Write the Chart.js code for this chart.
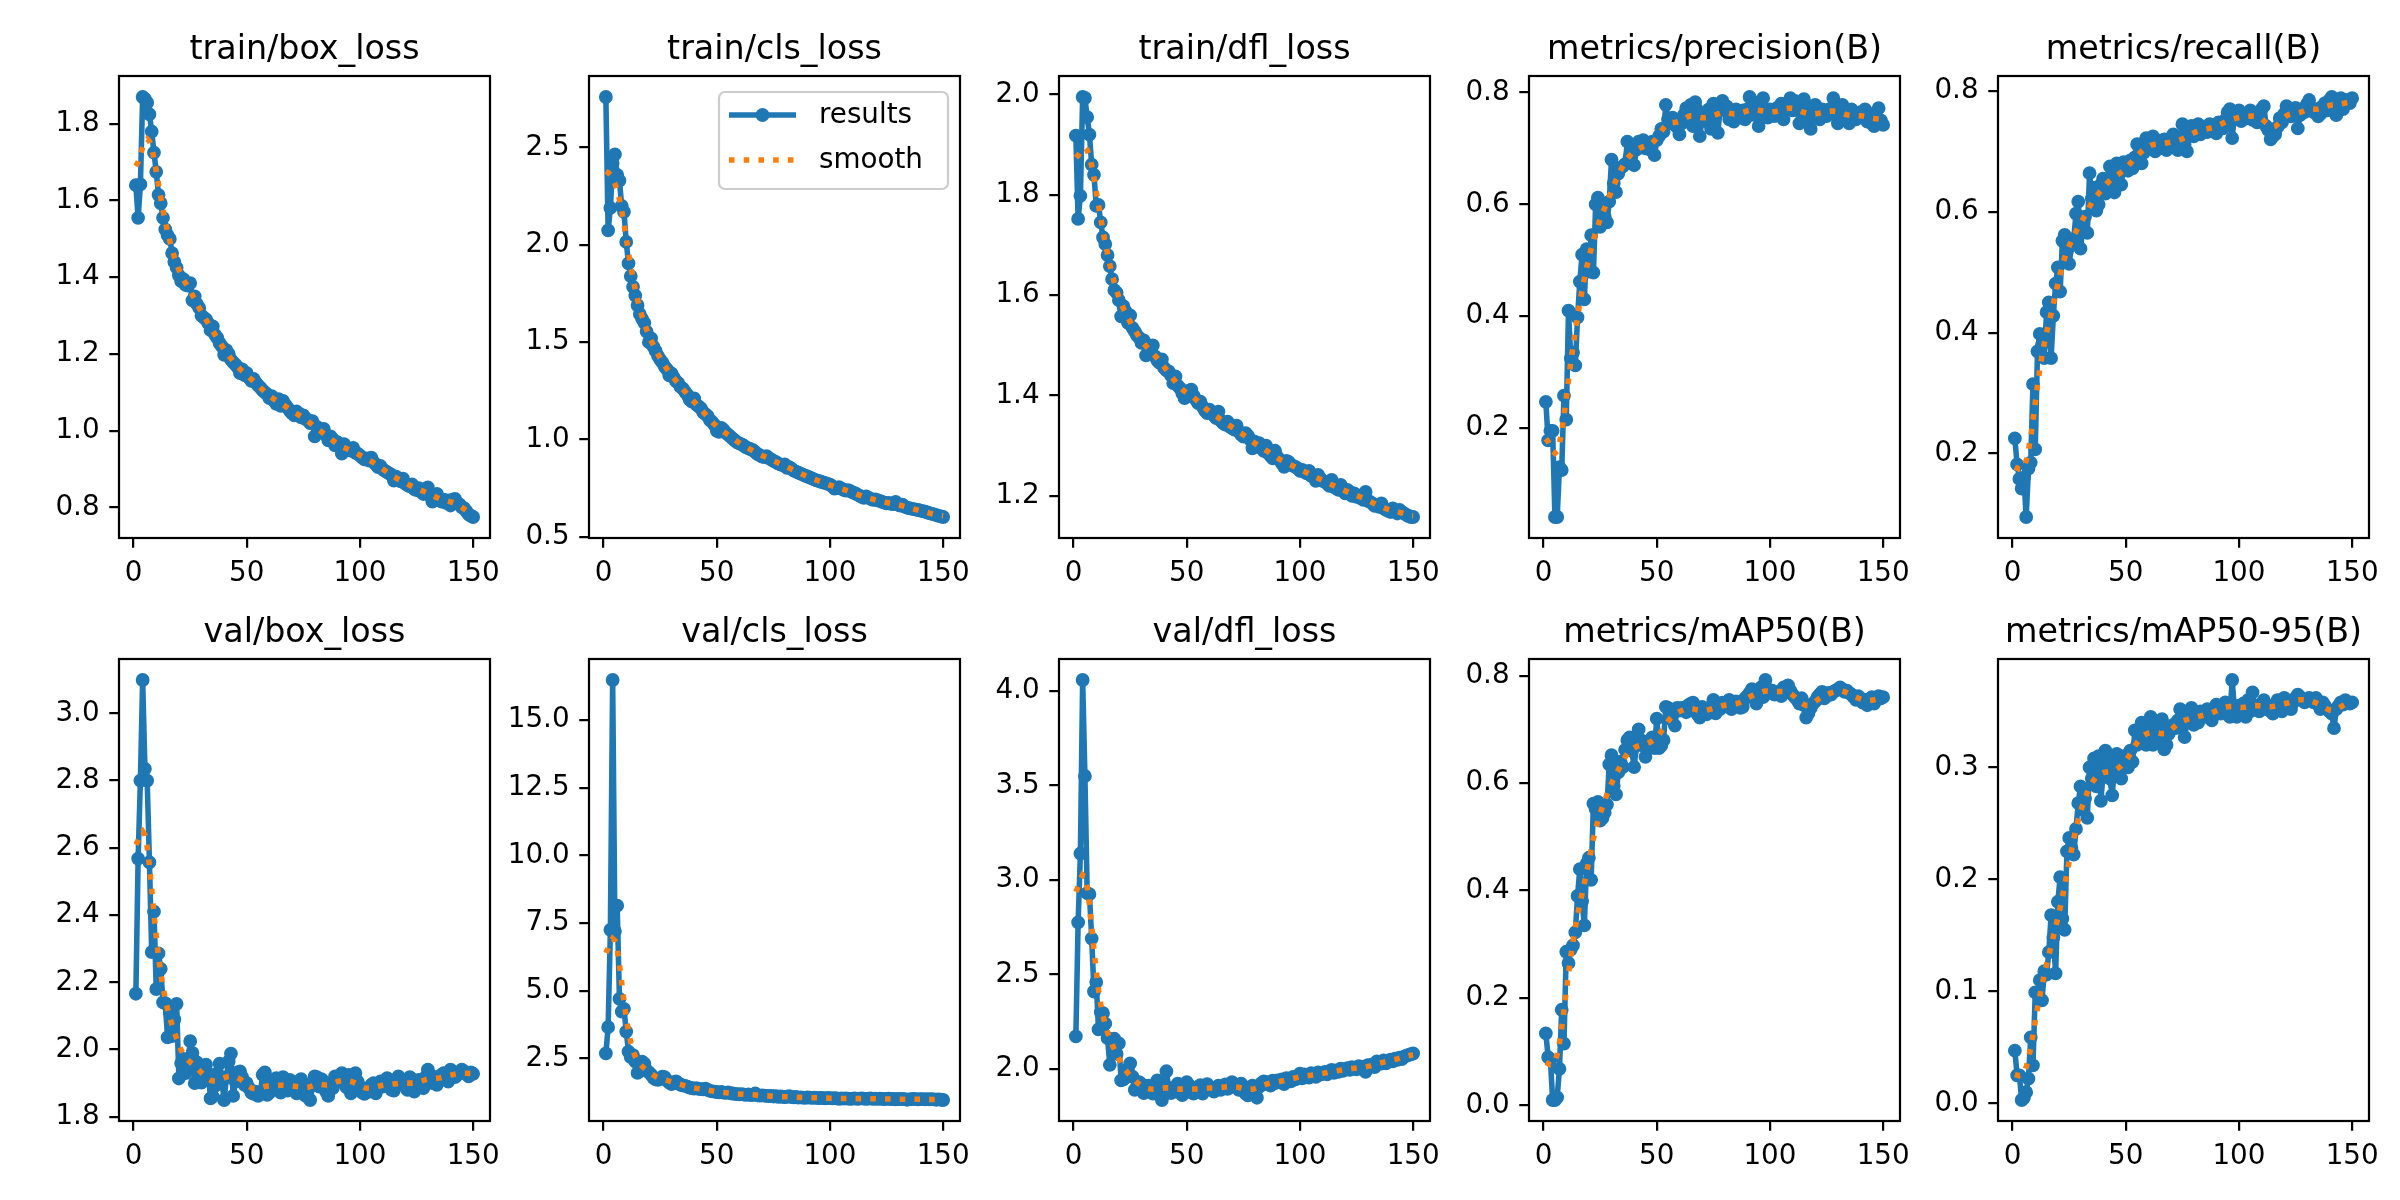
<!DOCTYPE html>
<html>
<head>
<meta charset="utf-8">
<script src="https://cdn.jsdelivr.net/npm/chart.js@4.4.1/dist/chart.umd.min.js"></script>
<style>
  html, body { margin: 0; padding: 0; background: #fff; }
  #fig { position: relative; width: 2400px; height: 1200px; background: #fff; overflow: hidden; }
  #fig canvas { position: absolute; }
</style>
</head>
<body>
<div id="fig"></div>
<script>
// values, one per epoch (1..150)
const trainBoxLoss = [
  1.640, 1.555, 1.642, 1.870, 1.865, 1.855, 1.825, 1.780, 1.725, 1.675,
  1.615, 1.593, 1.555, 1.525, 1.510, 1.500, 1.463, 1.440, 1.425, 1.405,
  1.390, 1.395, 1.380, 1.378, 1.385, 1.340, 1.350, 1.330, 1.320, 1.300,
  1.295, 1.290, 1.280, 1.262, 1.272, 1.250, 1.242, 1.228, 1.220, 1.198,
  1.210, 1.200, 1.185, 1.178, 1.172, 1.165, 1.150, 1.160, 1.145, 1.150,
  1.138, 1.130, 1.135, 1.125, 1.118, 1.112, 1.105, 1.100, 1.095, 1.085,
  1.090, 1.078, 1.070, 1.082, 1.065, 1.078, 1.068, 1.060, 1.052, 1.045,
  1.040, 1.050, 1.045, 1.035, 1.040, 1.030, 1.028, 1.020, 1.025, 0.985,
  1.010, 1.000, 0.995, 1.005, 0.990, 0.975, 0.985, 0.978, 0.962, 0.970,
  0.958, 0.940, 0.965, 0.955, 0.950, 0.948, 0.955, 0.942, 0.940, 0.935,
  0.930, 0.925, 0.928, 0.922, 0.930, 0.918, 0.912, 0.905, 0.908, 0.900,
  0.895, 0.892, 0.888, 0.885, 0.870, 0.880, 0.872, 0.868, 0.875, 0.862,
  0.858, 0.855, 0.860, 0.848, 0.845, 0.850, 0.842, 0.835, 0.848, 0.852,
  0.830, 0.815, 0.828, 0.835, 0.822, 0.815, 0.820, 0.812, 0.818, 0.805,
  0.820, 0.822, 0.812, 0.808, 0.800, 0.798, 0.790, 0.782, 0.778, 0.775
];
const trainClsLoss = [
  2.760, 2.075, 2.190, 2.420, 2.465, 2.360, 2.330, 2.200, 2.170, 2.015,
  1.905, 1.840, 1.785, 1.740, 1.690, 1.645, 1.620, 1.600, 1.555, 1.500,
  1.520, 1.478, 1.455, 1.430, 1.410, 1.395, 1.375, 1.360, 1.330, 1.340,
  1.318, 1.300, 1.290, 1.270, 1.262, 1.245, 1.230, 1.205, 1.195, 1.212,
  1.180, 1.170, 1.160, 1.140, 1.130, 1.120, 1.100, 1.090, 1.075, 1.045,
  1.040, 1.060, 1.050, 1.035, 1.025, 1.015, 1.005, 0.995, 0.985, 0.980,
  0.975, 0.968, 0.960, 0.955, 0.950, 0.945, 0.935, 0.925, 0.920, 0.912,
  0.910, 0.915, 0.905, 0.898, 0.890, 0.885, 0.878, 0.872, 0.868, 0.872,
  0.855, 0.858, 0.850, 0.840, 0.835, 0.830, 0.825, 0.820, 0.815, 0.810,
  0.805, 0.800, 0.795, 0.790, 0.787, 0.783, 0.780, 0.776, 0.772, 0.768,
  0.760, 0.748, 0.752, 0.755, 0.748, 0.742, 0.738, 0.740, 0.735, 0.728,
  0.725, 0.718, 0.712, 0.705, 0.700, 0.708, 0.702, 0.695, 0.690, 0.692,
  0.688, 0.685, 0.680, 0.676, 0.672, 0.675, 0.670, 0.668, 0.680, 0.665,
  0.660, 0.665, 0.655, 0.650, 0.648, 0.645, 0.642, 0.640, 0.638, 0.635,
  0.632, 0.630, 0.625, 0.622, 0.618, 0.615, 0.612, 0.608, 0.605, 0.602
];
const trainDflLoss = [
  1.918, 1.752, 1.798, 1.995, 1.993, 1.955, 1.920, 1.860, 1.840, 1.778,
  1.780, 1.745, 1.715, 1.702, 1.680, 1.658, 1.632, 1.610, 1.605, 1.590,
  1.558, 1.578, 1.568, 1.545, 1.560, 1.535, 1.528, 1.520, 1.515, 1.505,
  1.510, 1.480, 1.495, 1.488, 1.500, 1.478, 1.470, 1.465, 1.472, 1.455,
  1.450, 1.448, 1.440, 1.425, 1.438, 1.420, 1.415, 1.405, 1.395, 1.398,
  1.410, 1.412, 1.400, 1.392, 1.385, 1.388, 1.378, 1.370, 1.365, 1.372,
  1.365, 1.360, 1.355, 1.368, 1.350, 1.345, 1.342, 1.348, 1.338, 1.335,
  1.332, 1.340, 1.328, 1.322, 1.318, 1.325, 1.320, 1.312, 1.295, 1.308,
  1.300, 1.305, 1.295, 1.290, 1.300, 1.285, 1.280, 1.275, 1.290, 1.278,
  1.272, 1.265, 1.258, 1.270, 1.268, 1.262, 1.260, 1.258, 1.255, 1.250,
  1.252, 1.248, 1.245, 1.250, 1.240, 1.238, 1.230, 1.242, 1.235, 1.230,
  1.228, 1.225, 1.220, 1.232, 1.218, 1.215, 1.212, 1.222, 1.210, 1.205,
  1.212, 1.208, 1.200, 1.205, 1.198, 1.200, 1.195, 1.192, 1.208, 1.190,
  1.188, 1.185, 1.180, 1.182, 1.178, 1.185, 1.175, 1.172, 1.170, 1.168,
  1.175, 1.170, 1.165, 1.172, 1.168, 1.165, 1.162, 1.160, 1.158, 1.158
];
const precisionB = [
  0.247, 0.178, 0.195, 0.195, 0.041, 0.041, 0.130, 0.125, 0.258, 0.215,
  0.410, 0.325, 0.335, 0.312, 0.398, 0.462, 0.510, 0.430, 0.520, 0.480,
  0.545, 0.478, 0.600, 0.612, 0.560, 0.590, 0.578, 0.568, 0.605, 0.680,
  0.638, 0.622, 0.655, 0.665, 0.668, 0.672, 0.712, 0.685, 0.705, 0.670,
  0.698, 0.712, 0.702, 0.715, 0.700, 0.708, 0.698, 0.712, 0.688, 0.715,
  0.722, 0.735, 0.730, 0.778, 0.752, 0.748, 0.755, 0.742, 0.738, 0.725,
  0.745, 0.760, 0.772, 0.752, 0.778, 0.740, 0.783, 0.768, 0.722, 0.752,
  0.760, 0.748, 0.770, 0.735, 0.780, 0.765, 0.728, 0.772, 0.785, 0.768,
  0.775, 0.752, 0.760, 0.748, 0.770, 0.762, 0.755, 0.768, 0.752, 0.770,
  0.792, 0.760, 0.775, 0.782, 0.740, 0.768, 0.790, 0.762, 0.755, 0.770,
  0.760, 0.758, 0.772, 0.765, 0.780, 0.752, 0.775, 0.770, 0.790, 0.768,
  0.785, 0.772, 0.745, 0.762, 0.788, 0.752, 0.770, 0.735, 0.765, 0.778,
  0.760, 0.752, 0.770, 0.765, 0.758, 0.770, 0.768, 0.790, 0.762, 0.745,
  0.772, 0.778, 0.760, 0.750, 0.745, 0.770, 0.762, 0.752, 0.758, 0.765,
  0.755, 0.770, 0.748, 0.762, 0.745, 0.740, 0.758, 0.772, 0.750, 0.742
];
const recallB = [
  0.225, 0.182, 0.158, 0.142, 0.160, 0.095, 0.175, 0.185, 0.315, 0.207,
  0.369, 0.398, 0.380, 0.358, 0.434, 0.450, 0.358, 0.428, 0.481, 0.508,
  0.468, 0.552, 0.562, 0.535, 0.514, 0.545, 0.555, 0.597, 0.617, 0.539,
  0.578, 0.592, 0.565, 0.664, 0.622, 0.640, 0.602, 0.612, 0.645, 0.655,
  0.630, 0.648, 0.675, 0.660, 0.632, 0.680, 0.662, 0.645, 0.682, 0.670,
  0.668, 0.685, 0.672, 0.690, 0.712, 0.705, 0.680, 0.698, 0.722, 0.708,
  0.715, 0.725, 0.700, 0.718, 0.705, 0.712, 0.720, 0.702, 0.715, 0.722,
  0.728, 0.710, 0.702, 0.718, 0.745, 0.712, 0.700, 0.738, 0.742, 0.725,
  0.730, 0.745, 0.728, 0.740, 0.735, 0.732, 0.745, 0.738, 0.742, 0.730,
  0.748, 0.742, 0.738, 0.752, 0.765, 0.770, 0.722, 0.760, 0.755, 0.768,
  0.750, 0.758, 0.762, 0.755, 0.768, 0.752, 0.760, 0.748, 0.762, 0.770,
  0.775, 0.742, 0.735, 0.720, 0.725, 0.728, 0.740, 0.755, 0.748, 0.762,
  0.775, 0.770, 0.758, 0.765, 0.772, 0.738, 0.760, 0.770, 0.765, 0.778,
  0.785, 0.772, 0.765, 0.770, 0.758, 0.762, 0.775, 0.780, 0.768, 0.785,
  0.790, 0.775, 0.760, 0.782, 0.788, 0.770, 0.778, 0.785, 0.780, 0.788
];
const valBoxLoss = [
  2.166, 2.568, 2.800, 3.099, 2.835, 2.800, 2.557, 2.290, 2.410, 2.180,
  2.286, 2.240, 2.140, 2.138, 2.036, 2.110, 2.040, 2.090, 2.136, 1.914,
  1.960, 1.972, 1.930, 1.958, 2.025, 1.990, 1.900, 1.962, 1.930, 1.902,
  1.940, 1.955, 1.928, 1.855, 1.860, 1.892, 1.930, 1.958, 1.905, 1.850,
  1.918, 1.965, 1.988, 1.862, 1.905, 1.932, 1.935, 1.918, 1.895, 1.900,
  1.885, 1.872, 1.868, 1.875, 1.862, 1.870, 1.925, 1.932, 1.865, 1.872,
  1.905, 1.880, 1.915, 1.888, 1.872, 1.918, 1.900, 1.878, 1.910, 1.890,
  1.880, 1.870, 1.905, 1.912, 1.895, 1.862, 1.878, 1.850, 1.902, 1.920,
  1.918, 1.890, 1.912, 1.905, 1.875, 1.862, 1.898, 1.885, 1.920, 1.915,
  1.905, 1.930, 1.912, 1.888, 1.925, 1.870, 1.922, 1.930, 1.905, 1.890,
  1.872, 1.868, 1.880, 1.875, 1.895, 1.900, 1.870, 1.885, 1.905, 1.890,
  1.895, 1.915, 1.902, 1.880, 1.878, 1.900, 1.920, 1.910, 1.895, 1.902,
  1.880, 1.918, 1.912, 1.875, 1.898, 1.910, 1.905, 1.885, 1.918, 1.940,
  1.925, 1.900, 1.918, 1.895, 1.910, 1.925, 1.930, 1.912, 1.905, 1.940,
  1.935, 1.918, 1.925, 1.930, 1.940, 1.935, 1.928, 1.920, 1.932, 1.928
];
const valClsLoss = [
  2.68, 3.65, 7.25, 16.48, 7.20, 8.14, 4.70, 4.23, 4.33, 3.49,
  2.75, 2.54, 2.62, 2.38, 1.96, 2.12, 2.38, 2.30, 2.05, 1.98,
  1.90, 1.78, 1.72, 1.70, 1.75, 1.82, 1.80, 1.68, 1.60, 1.55,
  1.62, 1.65, 1.58, 1.52, 1.50, 1.48, 1.45, 1.42, 1.40, 1.38,
  1.40, 1.37, 1.36, 1.35, 1.38, 1.33, 1.30, 1.28, 1.27, 1.25,
  1.24, 1.26, 1.23, 1.22, 1.24, 1.21, 1.20, 1.19, 1.18, 1.17,
  1.18, 1.16, 1.15, 1.17, 1.14, 1.15, 1.20, 1.13, 1.12, 1.13,
  1.12, 1.11, 1.10, 1.11, 1.09, 1.10, 1.08, 1.09, 1.08, 1.07,
  1.08, 1.10, 1.07, 1.06, 1.07, 1.05, 1.06, 1.05, 1.04, 1.06,
  1.05, 1.04, 1.05, 1.04, 1.03, 1.04, 1.03, 1.02, 1.04, 1.03,
  1.02, 1.03, 1.02, 1.00, 1.02, 1.01, 1.02, 1.01, 1.00, 1.01,
  1.02, 1.00, 1.01, 1.02, 1.01, 1.00, 1.01, 1.02, 1.00, 1.01,
  1.00, 1.01, 1.00, 0.99, 1.00, 1.01, 0.99, 1.00, 0.98, 1.00,
  0.99, 1.00, 0.99, 0.97, 0.98, 0.99, 1.00, 0.99, 0.98, 0.99,
  0.99, 0.98, 0.99, 0.98, 0.99, 0.98, 0.97, 0.98, 0.97, 0.96
];
const valDflLoss = [
  2.173, 2.776, 3.140, 4.058, 3.550, 2.930, 2.925, 2.690, 2.410, 2.460,
  2.210, 2.300, 2.295, 2.240, 2.164, 2.022, 2.150, 2.160, 2.080, 2.135,
  1.940, 1.945, 1.955, 2.000, 2.030, 1.960, 1.890, 1.905, 1.930, 1.920,
  1.872, 1.888, 1.912, 1.882, 1.870, 1.898, 1.940, 1.862, 1.836, 1.910,
  1.988, 1.900, 1.872, 1.895, 1.880, 1.922, 1.880, 1.862, 1.892, 1.930,
  1.915, 1.878, 1.870, 1.885, 1.905, 1.915, 1.870, 1.900, 1.920, 1.905,
  1.895, 1.880, 1.900, 1.912, 1.890, 1.905, 1.918, 1.895, 1.902, 1.930,
  1.915, 1.905, 1.890, 1.922, 1.908, 1.870, 1.860, 1.895, 1.912, 1.898,
  1.848, 1.905, 1.925, 1.935, 1.920, 1.930, 1.912, 1.938, 1.925, 1.940,
  1.930, 1.945, 1.920, 1.952, 1.940, 1.935, 1.958, 1.945, 1.962, 1.975,
  1.950, 1.972, 1.960, 1.955, 1.978, 1.965, 1.958, 1.982, 1.970, 1.975,
  1.985, 1.972, 1.988, 1.995, 1.980, 1.992, 1.985, 2.002, 1.990, 1.998,
  2.005, 1.995, 2.010, 2.002, 1.998, 2.015, 2.008, 2.012, 1.985, 2.020,
  2.018, 2.025, 2.010, 2.040, 2.035, 2.028, 2.045, 2.030, 2.042, 2.050,
  2.040, 2.055, 2.048, 2.060, 2.052, 2.065, 2.070, 2.075, 2.078, 2.082
];
const mAP50B = [
  0.134, 0.090, 0.085, 0.010, 0.010, 0.015, 0.068, 0.178, 0.115, 0.286,
  0.265, 0.290, 0.298, 0.322, 0.390, 0.440, 0.380, 0.335, 0.450, 0.461,
  0.420, 0.562, 0.552, 0.565, 0.530, 0.535, 0.545, 0.560, 0.635, 0.652,
  0.595, 0.579, 0.620, 0.640, 0.630, 0.662, 0.680, 0.685, 0.660, 0.630,
  0.670, 0.700, 0.680, 0.670, 0.649, 0.665, 0.680, 0.685, 0.665, 0.720,
  0.665, 0.670, 0.680, 0.742, 0.740, 0.720, 0.735, 0.707, 0.740, 0.735,
  0.740, 0.738, 0.732, 0.745, 0.748, 0.750, 0.735, 0.728, 0.722, 0.742,
  0.735, 0.728, 0.740, 0.732, 0.755, 0.730, 0.742, 0.738, 0.750, 0.745,
  0.748, 0.755, 0.738, 0.745, 0.752, 0.748, 0.740, 0.742, 0.758, 0.762,
  0.768, 0.775, 0.760, 0.748, 0.772, 0.778, 0.760, 0.792, 0.775, 0.768,
  0.772, 0.765, 0.768, 0.770, 0.762, 0.778, 0.775, 0.782, 0.772, 0.765,
  0.760, 0.755, 0.748, 0.758, 0.745, 0.722, 0.730, 0.740, 0.748, 0.752,
  0.760, 0.765, 0.770, 0.758, 0.762, 0.768, 0.765, 0.770, 0.772, 0.775,
  0.778, 0.775, 0.770, 0.772, 0.768, 0.765, 0.760, 0.755, 0.762, 0.758,
  0.750, 0.755, 0.745, 0.752, 0.760, 0.748, 0.755, 0.762, 0.758, 0.760
];
const mAP5095B = [
  0.047, 0.025, 0.025, 0.003, 0.005, 0.010, 0.022, 0.059, 0.034, 0.099,
  0.098, 0.110, 0.092, 0.118, 0.115, 0.135, 0.168, 0.148, 0.116, 0.180,
  0.202, 0.165, 0.155, 0.225, 0.237, 0.228, 0.222, 0.245, 0.268, 0.283,
  0.262, 0.272, 0.255, 0.300, 0.290, 0.308, 0.283, 0.310, 0.270, 0.295,
  0.315, 0.305, 0.290, 0.275, 0.300, 0.312, 0.295, 0.290, 0.310, 0.305,
  0.300, 0.315, 0.305, 0.333, 0.320, 0.325, 0.340, 0.330, 0.320, 0.335,
  0.345, 0.320, 0.330, 0.340, 0.325, 0.343, 0.316, 0.320, 0.330, 0.335,
  0.338, 0.335, 0.342, 0.352, 0.345, 0.327, 0.340, 0.350, 0.353, 0.338,
  0.345, 0.340, 0.350, 0.348, 0.345, 0.352, 0.345, 0.342, 0.350, 0.356,
  0.352, 0.348, 0.355, 0.358, 0.350, 0.345, 0.378, 0.352, 0.345, 0.355,
  0.350, 0.357, 0.345, 0.360, 0.350, 0.367, 0.352, 0.355, 0.350, 0.357,
  0.360, 0.352, 0.355, 0.350, 0.348, 0.355, 0.360, 0.358, 0.350, 0.362,
  0.360, 0.355, 0.352, 0.358, 0.362, 0.365, 0.363, 0.360, 0.358, 0.360,
  0.362, 0.360, 0.358, 0.362, 0.356, 0.352, 0.358, 0.355, 0.352, 0.350,
  0.348, 0.335, 0.352, 0.355, 0.358, 0.356, 0.360, 0.358, 0.357, 0.358
];

const titles = [
  'train/box_loss', 'train/cls_loss', 'train/dfl_loss', 'metrics/precision(B)', 'metrics/recall(B)',
  'val/box_loss', 'val/cls_loss', 'val/dfl_loss', 'metrics/mAP50(B)', 'metrics/mAP50-95(B)'
];
const series = [
  trainBoxLoss, trainClsLoss, trainDflLoss, precisionB, recallB,
  valBoxLoss, valClsLoss, valDflLoss, mAP50B, mAP5095B
];
const xTickLabels = [0, 50, 100, 150];
const yTickLabels = [
  [0.8, 1.0, 1.2, 1.4, 1.6, 1.8],
  [0.5, 1.0, 1.5, 2.0, 2.5],
  [1.2, 1.4, 1.6, 1.8, 2.0],
  [0.2, 0.4, 0.6, 0.8],
  [0.2, 0.4, 0.6, 0.8],
  [1.8, 2.0, 2.2, 2.4, 2.6, 2.8, 3.0],
  [2.5, 5.0, 7.5, 10.0, 12.5, 15.0],
  [2.0, 2.5, 3.0, 3.5, 4.0],
  [0.0, 0.2, 0.4, 0.6, 0.8],
  [0.0, 0.1, 0.2, 0.3]
];
const legendLabels = ['results', 'smooth'];

// figure geometry (matplotlib 12x6 in at 200 dpi)
const colLefts = [119, 589, 1059, 1529, 1998];
const rowTops = [76, 659];
const axW = 371, axH = 462;
const PAD_L = 110, PAD_T = 70, PAD_R = 20, PAD_B = 60;
const BLUE = '#1f77b4', ORANGE = '#ff7f0e';
const FONT = '"DejaVu Sans", "Liberation Sans", sans-serif';
const PT = 200 / 72;

// scipy gaussian_filter1d, mode='reflect', truncate=4
function gaussianSmooth(y, sigma) {
  const radius = Math.floor(4 * sigma + 0.5);
  const w = [];
  let sum = 0;
  for (let k = -radius; k <= radius; k++) {
    const v = Math.exp(-0.5 * k * k / (sigma * sigma));
    w.push(v);
    sum += v;
  }
  const n = y.length;
  const idx = i => {
    while (i < 0 || i >= n) {
      if (i < 0) i = -i - 1;
      if (i >= n) i = 2 * n - i - 1;
    }
    return i;
  };
  return y.map((_, i) => {
    let s = 0;
    for (let k = -radius; k <= radius; k++) s += w[k + radius] * y[idx(i + k)];
    return s / sum;
  });
}

function panelPlugin(title, showLegend) {
  return {
    id: 'panel',
    afterDraw(chart) {
      const ctx = chart.ctx;
      const ca = chart.chartArea;
      ctx.save();
      // frame (all four spines)
      ctx.strokeStyle = '#000';
      ctx.lineWidth = 0.8 * PT;
      ctx.strokeRect(ca.left, ca.top, ca.right - ca.left, ca.bottom - ca.top);
      // title
      ctx.fillStyle = '#000';
      ctx.font = (12 * PT) + 'px ' + FONT;
      ctx.textAlign = 'center';
      ctx.textBaseline = 'alphabetic';
      ctx.fillText(title, (ca.left + ca.right) / 2, ca.top - 6 * PT);
      if (showLegend) {
        const bw = 229, bh = 97;
        const bx = ca.right - 12 - bw, by = ca.top + 16;
        ctx.beginPath();
        ctx.roundRect(bx, by, bw, bh, 6);
        ctx.fillStyle = 'rgba(255,255,255,0.8)';
        ctx.fill();
        ctx.strokeStyle = '#cccccc';
        ctx.lineWidth = 0.8 * PT;
        ctx.stroke();
        const hx0 = bx + 10, hx1 = bx + 77;
        const r1 = by + 23, r2 = by + 68;
        // results handle
        ctx.strokeStyle = BLUE;
        ctx.lineWidth = 2 * PT;
        ctx.lineCap = 'butt';
        ctx.beginPath();
        ctx.moveTo(hx0, r1);
        ctx.lineTo(hx1, r1);
        ctx.stroke();
        ctx.fillStyle = BLUE;
        ctx.beginPath();
        ctx.arc((hx0 + hx1) / 2, r1, 6.9, 0, Math.PI * 2);
        ctx.fill();
        // smooth handle
        ctx.strokeStyle = ORANGE;
        ctx.setLineDash([2 * PT, 1.65 * 2 * PT]);
        ctx.beginPath();
        ctx.moveTo(hx0, r2);
        ctx.lineTo(hx1, r2);
        ctx.stroke();
        ctx.setLineDash([]);
        ctx.fillStyle = '#000';
        ctx.font = (10 * PT) + 'px ' + FONT;
        ctx.textAlign = 'left';
        ctx.textBaseline = 'middle';
        ctx.fillText(legendLabels[0], bx + 100, r1 + 1);
        ctx.fillText(legendLabels[1], bx + 100, r2 + 1);
      }
      ctx.restore();
    }
  };
}

const fig = document.getElementById('fig');

series.forEach((ys, p) => {
  const row = Math.floor(p / 5), col = p % 5;
  const canvas = document.createElement('canvas');
  const W = PAD_L + axW + PAD_R, H = PAD_T + axH + PAD_B;
  canvas.width = W;
  canvas.height = H;
  canvas.style.width = W + 'px';
  canvas.style.height = H + 'px';
  canvas.style.left = (colLefts[col] - PAD_L) + 'px';
  canvas.style.top = (rowTops[row] - PAD_T) + 'px';
  fig.appendChild(canvas);

  const epochs = ys.map((_, i) => i + 1);
  const smooth = gaussianSmooth(ys, 3);
  const all = ys.concat(smooth);
  const yMin = Math.min(...all), yMax = Math.max(...all);
  const yPad = 0.05 * (yMax - yMin);
  const xPad = 0.05 * (epochs[epochs.length - 1] - epochs[0]);

  const tickFont = { family: FONT, size: 10 * PT };
  const gridOpts = {
    drawOnChartArea: false,
    drawTicks: true,
    tickLength: 3.5 * PT,
    tickWidth: 0.8 * PT,
    lineWidth: 0.8 * PT,
    color: '#000',
    tickColor: '#000'
  };

  new Chart(canvas.getContext('2d'), {
    type: 'line',
    data: {
      datasets: [
        {
          label: legendLabels[1],
          data: epochs.map((x, i) => ({ x: x, y: smooth[i] })),
          borderColor: ORANGE,
          borderWidth: 2 * PT,
          borderDash: [2 * PT, 1.65 * 2 * PT],
          borderCapStyle: 'butt',
          pointRadius: 0,
          fill: false,
          tension: 0,
          order: 0
        },
        {
          label: legendLabels[0],
          data: epochs.map((x, i) => ({ x: x, y: ys[i] })),
          borderColor: BLUE,
          backgroundColor: BLUE,
          borderWidth: 2 * PT,
          borderJoinStyle: 'round',
          pointRadius: 5.5,
          pointBorderWidth: 2.8,
          pointBackgroundColor: BLUE,
          pointBorderColor: BLUE,
          pointHoverRadius: 5.5,
          fill: false,
          tension: 0,
          order: 1
        }
      ]
    },
    options: {
      responsive: false,
      animation: false,
      devicePixelRatio: 1,
      layout: { padding: { left: 0, top: PAD_T, right: PAD_R, bottom: 0 } },
      plugins: { legend: { display: false }, tooltip: { enabled: false }, title: { display: false } },
      events: [],
      scales: {
        x: {
          type: 'linear',
          min: epochs[0] - xPad,
          max: epochs[epochs.length - 1] + xPad,
          grid: gridOpts,
          border: { display: false },
          ticks: { font: tickFont, color: '#000', padding: 3.5 * PT, maxRotation: 0, minRotation: 0, autoSkip: false },
          afterBuildTicks: axis => { axis.ticks = xTickLabels.map(v => ({ value: v })); },
          afterFit: axis => { axis.height = PAD_B; axis.paddingLeft = 0; axis.paddingRight = 0; }
        },
        y: {
          type: 'linear',
          min: yMin - yPad,
          max: yMax + yPad,
          grid: gridOpts,
          border: { display: false },
          ticks: { font: tickFont, color: '#000', padding: 3.5 * PT, callback: v => Number(v).toFixed(1) },
          afterBuildTicks: axis => { axis.ticks = yTickLabels[p].map(v => ({ value: v })); },
          afterFit: axis => { axis.width = PAD_L; axis.paddingTop = 0; axis.paddingBottom = 0; }
        }
      }
    },
    plugins: [panelPlugin(titles[p], p === 1)]
  });
});
</script>
</body>
</html>
